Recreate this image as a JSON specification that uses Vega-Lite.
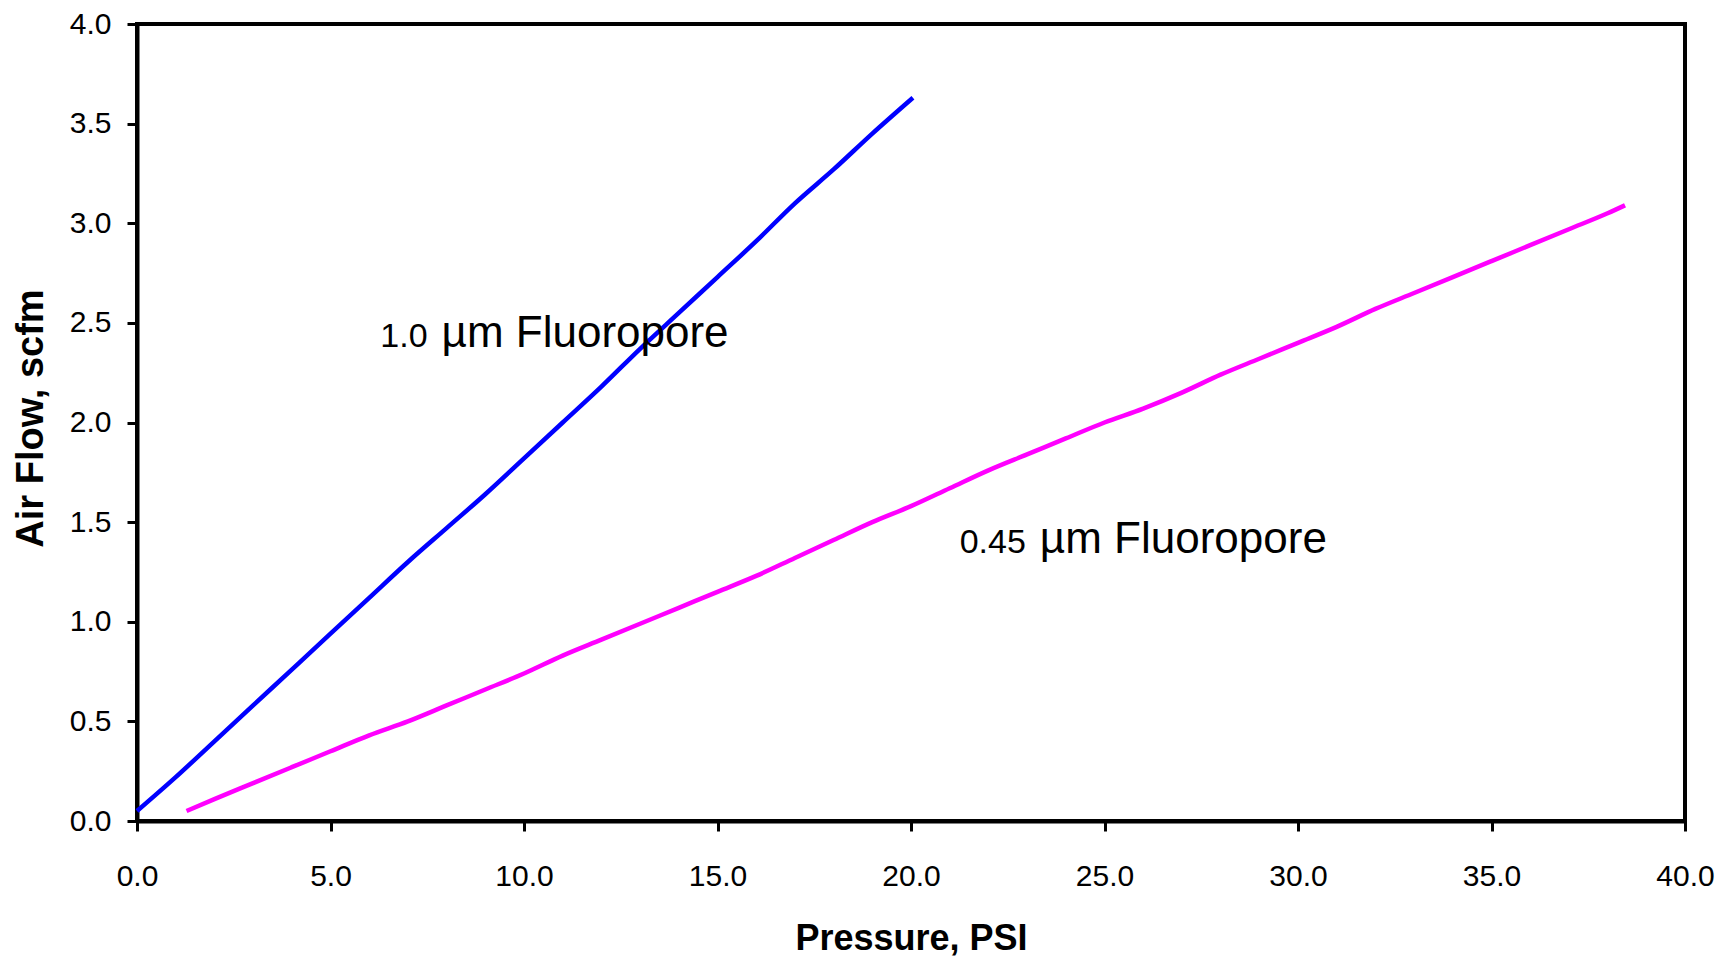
{
  "$schema": "https://vega.github.io/schema/vega-lite/v6.json",
  "width": 1548,
  "height": 797,
  "autosize": "none",
  "padding": {"left": 137, "top": 24, "right": 36, "bottom": 135},
  "background": "white",
  "config": {
    "font": "Liberation Sans",
    "view": {"stroke": "black", "strokeWidth": 4},
    "axis": {
      "grid": false,
      "domainColor": "black",
      "domainWidth": 4,
      "tickColor": "black",
      "tickWidth": 3,
      "tickSize": 10,
      "labelFont": "Liberation Sans",
      "labelFontSize": 30,
      "labelColor": "black",
      "labelFlush": false,
      "labelOverlap": false,
      "titleFont": "Liberation Sans",
      "titleFontSize": 36,
      "titleFontWeight": "bold",
      "titleColor": "black"
    }
  },
  "layer": [
    {
      "data": {
        "values": [
          {"filter": "1.0 µm", "pressure": 0, "flow": 0.05},
          {"filter": "1.0 µm", "pressure": 1, "flow": 0.22},
          {"filter": "1.0 µm", "pressure": 2, "flow": 0.40},
          {"filter": "1.0 µm", "pressure": 3, "flow": 0.58},
          {"filter": "1.0 µm", "pressure": 4, "flow": 0.76},
          {"filter": "1.0 µm", "pressure": 5, "flow": 0.94},
          {"filter": "1.0 µm", "pressure": 6, "flow": 1.12},
          {"filter": "1.0 µm", "pressure": 7, "flow": 1.30},
          {"filter": "1.0 µm", "pressure": 8, "flow": 1.47},
          {"filter": "1.0 µm", "pressure": 9, "flow": 1.64},
          {"filter": "1.0 µm", "pressure": 10, "flow": 1.82},
          {"filter": "1.0 µm", "pressure": 11, "flow": 2.00},
          {"filter": "1.0 µm", "pressure": 12, "flow": 2.18},
          {"filter": "1.0 µm", "pressure": 13, "flow": 2.37},
          {"filter": "1.0 µm", "pressure": 14, "flow": 2.55},
          {"filter": "1.0 µm", "pressure": 15, "flow": 2.73},
          {"filter": "1.0 µm", "pressure": 16, "flow": 2.91},
          {"filter": "1.0 µm", "pressure": 17, "flow": 3.10},
          {"filter": "1.0 µm", "pressure": 18, "flow": 3.27},
          {"filter": "1.0 µm", "pressure": 19, "flow": 3.45},
          {"filter": "1.0 µm", "pressure": 20.05, "flow": 3.63},
          {"filter": "0.45 µm", "pressure": 1.28, "flow": 0.05},
          {"filter": "0.45 µm", "pressure": 2, "flow": 0.11},
          {"filter": "0.45 µm", "pressure": 3, "flow": 0.19},
          {"filter": "0.45 µm", "pressure": 4, "flow": 0.27},
          {"filter": "0.45 µm", "pressure": 5, "flow": 0.35},
          {"filter": "0.45 µm", "pressure": 6, "flow": 0.43},
          {"filter": "0.45 µm", "pressure": 7, "flow": 0.50},
          {"filter": "0.45 µm", "pressure": 8, "flow": 0.58},
          {"filter": "0.45 µm", "pressure": 9, "flow": 0.66},
          {"filter": "0.45 µm", "pressure": 10, "flow": 0.74},
          {"filter": "0.45 µm", "pressure": 11, "flow": 0.83},
          {"filter": "0.45 µm", "pressure": 12, "flow": 0.91},
          {"filter": "0.45 µm", "pressure": 13, "flow": 0.99},
          {"filter": "0.45 µm", "pressure": 14, "flow": 1.07},
          {"filter": "0.45 µm", "pressure": 15, "flow": 1.15},
          {"filter": "0.45 µm", "pressure": 16, "flow": 1.23},
          {"filter": "0.45 µm", "pressure": 17, "flow": 1.32},
          {"filter": "0.45 µm", "pressure": 18, "flow": 1.41},
          {"filter": "0.45 µm", "pressure": 19, "flow": 1.50},
          {"filter": "0.45 µm", "pressure": 20, "flow": 1.58},
          {"filter": "0.45 µm", "pressure": 21, "flow": 1.67},
          {"filter": "0.45 µm", "pressure": 22, "flow": 1.76},
          {"filter": "0.45 µm", "pressure": 23, "flow": 1.84},
          {"filter": "0.45 µm", "pressure": 24, "flow": 1.92},
          {"filter": "0.45 µm", "pressure": 25, "flow": 2.00},
          {"filter": "0.45 µm", "pressure": 26, "flow": 2.07},
          {"filter": "0.45 µm", "pressure": 27, "flow": 2.15},
          {"filter": "0.45 µm", "pressure": 28, "flow": 2.24},
          {"filter": "0.45 µm", "pressure": 29, "flow": 2.32},
          {"filter": "0.45 µm", "pressure": 30, "flow": 2.40},
          {"filter": "0.45 µm", "pressure": 31, "flow": 2.48},
          {"filter": "0.45 µm", "pressure": 32, "flow": 2.57},
          {"filter": "0.45 µm", "pressure": 33, "flow": 2.65},
          {"filter": "0.45 µm", "pressure": 34, "flow": 2.73},
          {"filter": "0.45 µm", "pressure": 35, "flow": 2.81},
          {"filter": "0.45 µm", "pressure": 36, "flow": 2.89},
          {"filter": "0.45 µm", "pressure": 37, "flow": 2.97},
          {"filter": "0.45 µm", "pressure": 38, "flow": 3.05},
          {"filter": "0.45 µm", "pressure": 38.45, "flow": 3.09}
        ]
      },
      "mark": {"type": "line", "strokeWidth": 4.5, "interpolate": "monotone"},
      "encoding": {
        "x": {
          "field": "pressure",
          "type": "quantitative",
          "scale": {"domain": [0, 40], "nice": false, "zero": true},
          "axis": {
            "title": "Pressure, PSI",
            "values": [0, 5, 10, 15, 20, 25, 30, 35, 40],
            "format": ".1f",
            "labelPadding": 30,
            "titleY": 128,
            "titleBaseline": "alphabetic"
          }
        },
        "y": {
          "field": "flow",
          "type": "quantitative",
          "scale": {"domain": [0, 4], "nice": false},
          "axis": {
            "title": "Air Flow, scfm",
            "values": [0, 0.5, 1, 1.5, 2, 2.5, 3, 3.5, 4],
            "format": ".1f",
            "labelPadding": 16,
            "titleFontSize": 38,
            "titleX": -95,
            "titleY": 394,
            "titleAngle": -90,
            "titleBaseline": "alphabetic"
          }
        },
        "color": {
          "field": "filter",
          "type": "nominal",
          "scale": {"domain": ["1.0 µm", "0.45 µm"], "range": ["#0000FF", "#FF00FF"]},
          "legend": null
        }
      }
    },
    {
      "data": {
        "name": "labels",
        "values": [
          {"pressure": 7.87, "flow": 2.379, "num": "1.0", "name": "µm Fluoropore"},
          {"pressure": 23.33, "flow": 1.344, "num": "0.45", "name": "µm Fluoropore"}
        ]
      },
      "layer": [
        {
          "mark": {"type": "text", "align": "right", "baseline": "alphabetic", "dx": -14, "fontSize": 34, "color": "black", "font": "Liberation Sans"},
          "encoding": {
            "x": {"field": "pressure", "type": "quantitative"},
            "y": {"field": "flow", "type": "quantitative"},
            "text": {"field": "num"}
          }
        },
        {
          "mark": {"type": "text", "align": "left", "baseline": "alphabetic", "fontSize": 44, "color": "black", "font": "Liberation Sans"},
          "encoding": {
            "x": {"field": "pressure", "type": "quantitative"},
            "y": {"field": "flow", "type": "quantitative"},
            "text": {"field": "name"}
          }
        }
      ]
    }
  ]
}
